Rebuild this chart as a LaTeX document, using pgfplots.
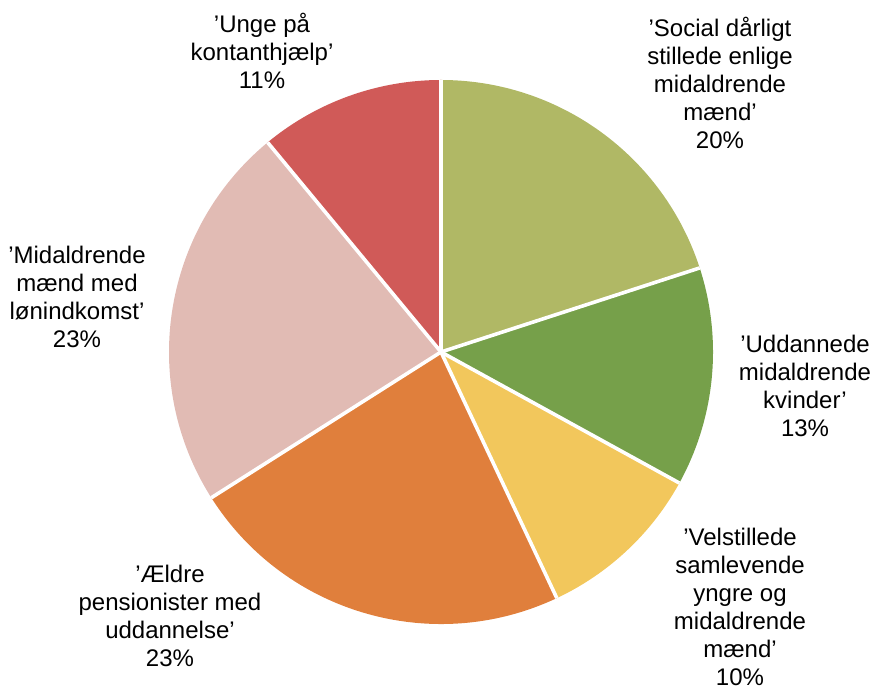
\documentclass[border=0pt]{standalone}
\usepackage{pgfplots}
\pgfplotsset{compat=1.18}
\usepackage{fontspec}
\setmainfont{Liberation Sans}
\definecolor{cSocial}{RGB}{176,184,101}
\definecolor{cUdd}{RGB}{118,160,74}
\definecolor{cVel}{RGB}{242,199,92}
\definecolor{cAeld}{RGB}{224,127,60}
\definecolor{cMid}{RGB}{225,187,180}
\definecolor{cUnge}{RGB}{208,90,88}
% shares (percent), clockwise from 12 o'clock
\newcommand\vSocial{20}
\newcommand\vUdd{13}
\newcommand\vVel{10}
\newcommand\vAeld{23}
\newcommand\vMid{23}
\newcommand\vUnge{11}
\newcommand\R{136pt}
\tikzset{lbl/.style={align=center, inner sep=0pt, font=\fontsize{12}{14}\selectfont}}
\begin{document}
\begin{tikzpicture}
\begin{axis}[
  scale only axis, width=435pt, height=344.5pt,
  xmin=0, xmax=870, ymin=0, ymax=689,
  hide axis, clip=false,
]
% slices
\fill[cSocial] (axis cs:441,337) -- ++(90:\R) arc[start angle=90, delta angle={-3.6*\vSocial}, radius=\R] -- cycle;
\fill[cUdd] (axis cs:441,337) -- ++({90-3.6*\vSocial}:\R) arc[start angle={90-3.6*\vSocial}, delta angle={-3.6*\vUdd}, radius=\R] -- cycle;
\fill[cVel] (axis cs:441,337) -- ++({90-3.6*(\vSocial+\vUdd)}:\R) arc[start angle={90-3.6*(\vSocial+\vUdd)}, delta angle={-3.6*\vVel}, radius=\R] -- cycle;
\fill[cAeld] (axis cs:441,337) -- ++({90-3.6*(\vSocial+\vUdd+\vVel)}:\R) arc[start angle={90-3.6*(\vSocial+\vUdd+\vVel)}, delta angle={-3.6*\vAeld}, radius=\R] -- cycle;
\fill[cMid] (axis cs:441,337) -- ++({90-3.6*(\vSocial+\vUdd+\vVel+\vAeld)}:\R) arc[start angle={90-3.6*(\vSocial+\vUdd+\vVel+\vAeld)}, delta angle={-3.6*\vMid}, radius=\R] -- cycle;
\fill[cUnge] (axis cs:441,337) -- ++({90-3.6*(\vSocial+\vUdd+\vVel+\vAeld+\vMid)}:\R) arc[start angle={90-3.6*(\vSocial+\vUdd+\vVel+\vAeld+\vMid)}, delta angle={-3.6*\vUnge}, radius=\R] -- cycle;
% white separators
\draw[white, line width=1.8pt] (axis cs:441,337) -- ++(90:\R);
\draw[white, line width=1.8pt] (axis cs:441,337) -- ++({90-3.6*\vSocial}:\R);
\draw[white, line width=1.8pt] (axis cs:441,337) -- ++({90-3.6*(\vSocial+\vUdd)}:\R);
\draw[white, line width=1.8pt] (axis cs:441,337) -- ++({90-3.6*(\vSocial+\vUdd+\vVel)}:\R);
\draw[white, line width=1.8pt] (axis cs:441,337) -- ++({90-3.6*(\vSocial+\vUdd+\vVel+\vAeld)}:\R);
\draw[white, line width=1.8pt] (axis cs:441,337) -- ++({90-3.6*(\vSocial+\vUdd+\vVel+\vAeld+\vMid)}:\R);
% labels
\node[lbl] at (axis cs:262,638) {’Unge på\\kontanthjælp’\\11\%};
\node[lbl] at (axis cs:720,606) {’Social dårligt\\stillede enlige\\midaldrende\\mænd’\\20\%};
\node[lbl] at (axis cs:805,303) {’Uddannede\\midaldrende\\kvinder’\\13\%};
\node[lbl] at (axis cs:740,82) {’Velstillede\\samlevende\\yngre og\\midaldrende\\mænd’\\10\%};
\node[lbl] at (axis cs:170,73) {’Ældre\\pensionister med\\uddannelse’\\23\%};
\node[lbl] at (axis cs:77,392) {’Midaldrende\\mænd med\\lønindkomst’\\23\%};
\end{axis}
\pgfresetboundingbox
\path[use as bounding box] (current axis.south west) rectangle (current axis.north east);
\end{tikzpicture}
\end{document}
